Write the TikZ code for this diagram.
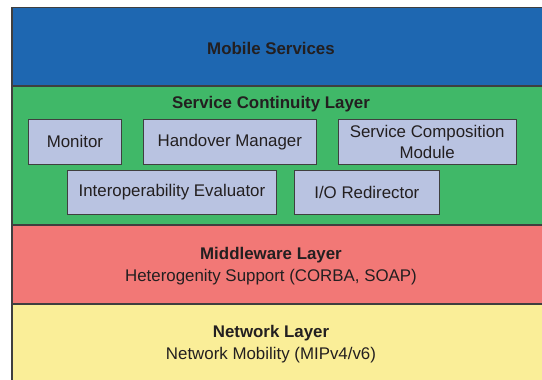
\documentclass[tikz,border=0pt]{standalone}
\usepackage{fontspec}
\setmainfont{Liberation Sans}
\usetikzlibrary{positioning}
\definecolor{Frame}{HTML}{3F3F3F}
\definecolor{Ink}{HTML}{231F20}
\definecolor{MobileBlue}{HTML}{1E67B1}
\definecolor{ContGreen}{HTML}{40B868}
\definecolor{MidRed}{HTML}{F27876}
\definecolor{NetYellow}{HTML}{FAEE98}
\definecolor{Module}{HTML}{B9C3E1}
\begin{document}
\begin{tikzpicture}[x=0.025cm,y=-0.025cm,node distance=0.525cm,
  layer/.style={draw=none,anchor=north west,minimum width=14cm,inner sep=0pt},
  caption/.style={align=center,text=Ink,font=\fontsize{12}{16}\selectfont},
  module/.style={draw=Frame,line width=0.6pt,fill=Module,minimum height=1.125cm,inner sep=2pt,align=center,text=Ink,font=\fontsize{12}{15}\selectfont}]
  \useasboundingbox (0,0) rectangle (542,380);
  % layers, top to bottom
  \node[layer,fill=MobileBlue,minimum height=1.9625cm] (mobile) at (12,7.5) {};
  \node[layer,fill=ContGreen,minimum height=3.475cm] (continuity) at (12,86) {};
  \node[layer,fill=MidRed,minimum height=1.975cm] (middleware) at (12,225) {};
  \node[layer,fill=NetYellow,minimum height=2cm] (network) at (12,304) {};
  \draw[Frame,line width=1.1pt] (network.south west) -- (mobile.north west) -- (mobile.north east);
  \foreach \l in {continuity,middleware,network}
    \draw[Frame,line width=1.1pt] (\l.north west) -- (\l.north east);
  \node[caption,font=\fontsize{12}{16}\selectfont\bfseries] (mtitle) at (271,48) {Mobile Services};
  \node[caption,font=\fontsize{12}{16}\selectfont\bfseries] (ctitle) at (271,104) {Service Continuity Layer};
  \node[caption] (wtitle) at (271,266) {{\bfseries Middleware Layer}\\Heterogenity Support (CORBA, SOAP)};
  \node[caption] (ntitle) at (271,344) {{\bfseries Network Layer}\\Network Mobility (MIPv4/v6)};
  % modules of the continuity layer
  \node[module,minimum width=2.325cm,anchor=north west] (monitor) at (28,119) {Monitor};
  \node[module,minimum width=4.325cm,right=of monitor] (handover) {Handover Manager};
  \node[module,minimum width=4.45cm,right=of handover] (composition) {Service Composition\\Module};
  \node[module,minimum width=5.225cm,minimum height=1.1cm,anchor=north west] (evaluator) at (67,170) {Interoperability Evaluator};
  \node[module,minimum width=3.625cm,minimum height=1.1cm,right=0.425cm of evaluator] (redirector) {I/O Redirector};
\end{tikzpicture}
\end{document}
